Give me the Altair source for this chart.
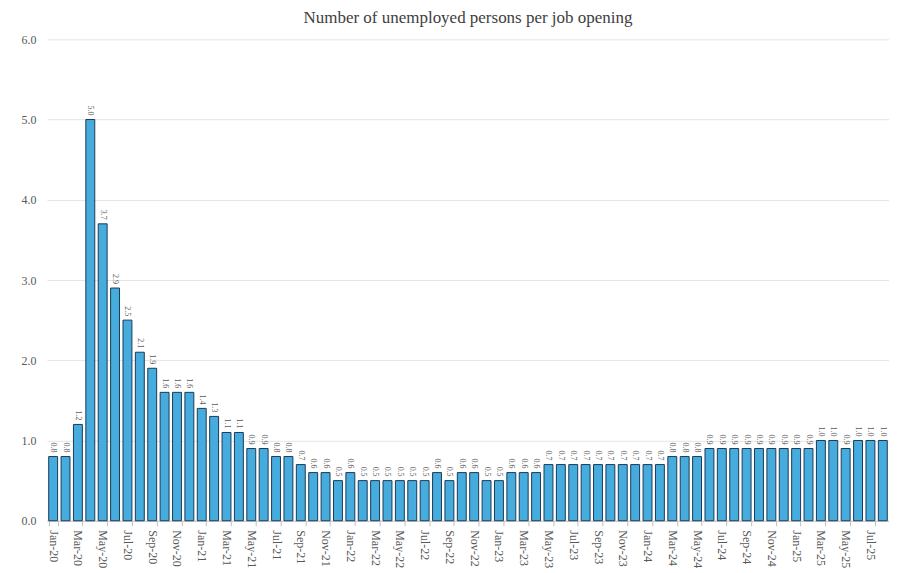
import altair as alt
import pandas as pd

months = [
    "Jan-20", "Feb-20", "Mar-20", "Apr-20", "May-20", "Jun-20", "Jul-20", "Aug-20", "Sep-20", "Oct-20", "Nov-20", "Dec-20",
    "Jan-21", "Feb-21", "Mar-21", "Apr-21", "May-21", "Jun-21", "Jul-21", "Aug-21", "Sep-21", "Oct-21", "Nov-21", "Dec-21",
    "Jan-22", "Feb-22", "Mar-22", "Apr-22", "May-22", "Jun-22", "Jul-22", "Aug-22", "Sep-22", "Oct-22", "Nov-22", "Dec-22",
    "Jan-23", "Feb-23", "Mar-23", "Apr-23", "May-23", "Jun-23", "Jul-23", "Aug-23", "Sep-23", "Oct-23", "Nov-23", "Dec-23",
    "Jan-24", "Feb-24", "Mar-24", "Apr-24", "May-24", "Jun-24", "Jul-24", "Aug-24", "Sep-24", "Oct-24", "Nov-24", "Dec-24",
    "Jan-25", "Feb-25", "Mar-25", "Apr-25", "May-25", "Jun-25", "Jul-25", "Aug-25",
]
values = [
    0.8, 0.8, 1.2, 5.0, 3.7, 2.9, 2.5, 2.1, 1.9, 1.6, 1.6, 1.6,
    1.4, 1.3, 1.1, 1.1, 0.9, 0.9, 0.8, 0.8, 0.7, 0.6, 0.6, 0.5,
    0.6, 0.5, 0.5, 0.5, 0.5, 0.5, 0.5, 0.6, 0.5, 0.6, 0.6, 0.5,
    0.5, 0.6, 0.6, 0.6, 0.7, 0.7, 0.7, 0.7, 0.7, 0.7, 0.7, 0.7,
    0.7, 0.7, 0.8, 0.8, 0.8, 0.9, 0.9, 0.9, 0.9, 0.9, 0.9, 0.9,
    0.9, 0.9, 1.0, 1.0, 0.9, 1.0, 1.0, 1.0,
]
axis_months = months[::2]
y_ticks = [0, 1, 2, 3, 4, 5, 6]

df = pd.DataFrame({"month": months, "value": values})

FONT = "Liberation Serif"
GRAY = "#595959"

x_enc = alt.X(
    "month:N",
    sort=months,
    scale=alt.Scale(paddingInner=0.28, paddingOuter=0.14),
    axis=alt.Axis(
        title=None,
        values=axis_months,
        labelAngle=90,
        labelAlign="left",
        labelBaseline="middle",
        labelFont=FONT,
        labelFontSize=12,
        labelColor=GRAY,
        labelPadding=4,
        domainColor="#bfbfbf",
        tickColor="#bfbfbf",
        tickSize=5,
        tickBand="extent",
        grid=False,
    ),
)
y_enc = alt.Y(
    "value:Q",
    scale=alt.Scale(domain=[0, 6], nice=False),
    axis=alt.Axis(
        title=None,
        values=y_ticks,
        format=".1f",
        labelFont=FONT,
        labelFontSize=12,
        labelColor=GRAY,
        labelPadding=11,
        domain=False,
        ticks=False,
        gridColor="#e4e4e4",
        gridWidth=1,
    ),
)

bars = alt.Chart(df).mark_bar(
    color="#45ACDD", stroke="#1d3a57", strokeWidth=1
).encode(x=x_enc, y=y_enc)

labels = alt.Chart(df).mark_text(
    angle=90, align="right", baseline="middle", dx=-4,
    font=FONT, fontSize=8, color=GRAY,
).encode(
    x=alt.X("month:N", sort=months),
    y="value:Q",
    text=alt.Text("value:Q", format=".1f"),
)

chart = alt.layer(bars, labels).properties(
    width=843,
    height=482,
    padding={"left": 13, "top": 1, "right": 0, "bottom": 0},
    title=alt.TitleParams(
        "Number of unemployed persons per job opening",
        font=FONT, fontSize=17, fontWeight="normal", color="#404040",
        anchor="middle", offset=6,
    ),
).configure_view(stroke=None)

chart.save("out.html", embed_options={"renderer": "svg", "actions": False})
